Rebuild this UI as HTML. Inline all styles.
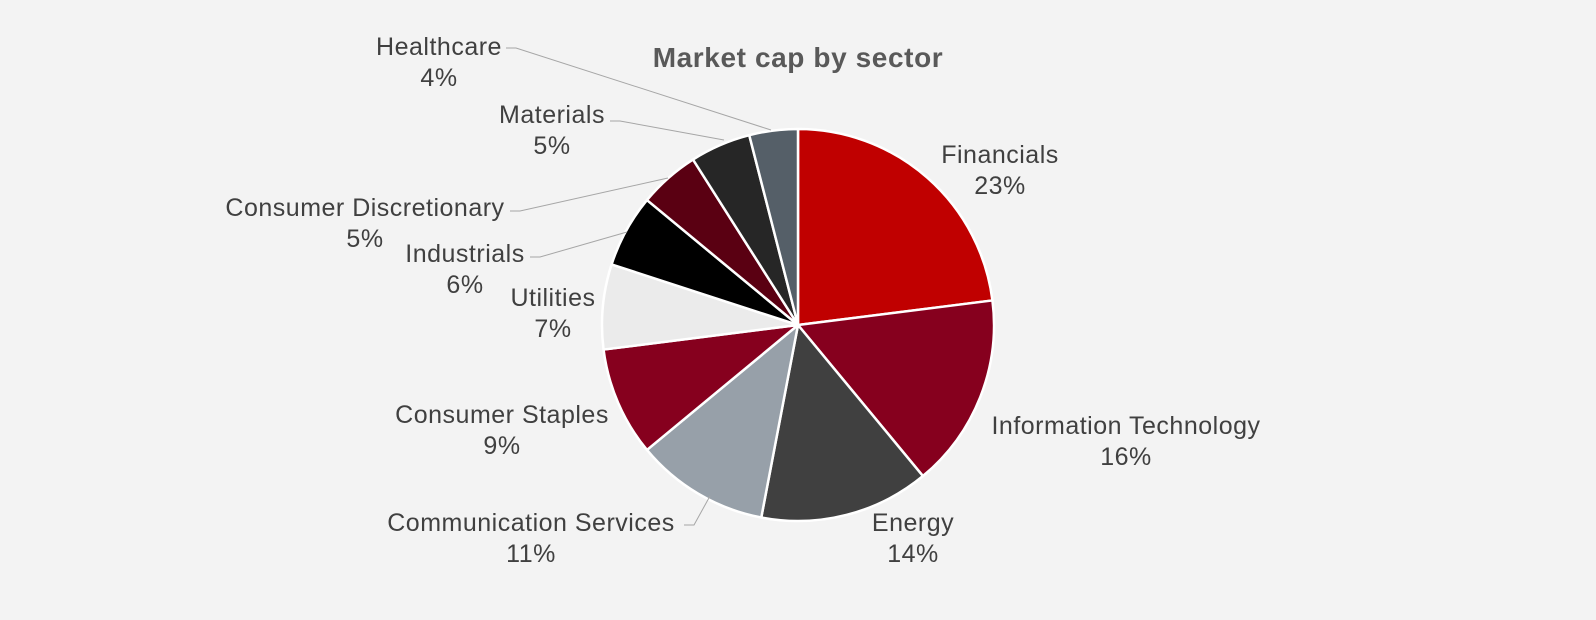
<!DOCTYPE html>
<html><head><meta charset="utf-8"><style>
html,body{margin:0;padding:0;background:#f3f3f3;}
svg{display:block;font-family:"Liberation Sans",Arial,sans-serif;}
text{fill:#404040;font-size:25px;letter-spacing:0.5px;}
</style></head><body>
<svg id="s" width="1596" height="620" viewBox="0 0 1596 620">
<rect width="1596" height="620" fill="#f3f3f3"/>
<text x="798" y="67" text-anchor="middle" style="font-weight:bold;font-size:28px;fill:#595959;letter-spacing:0.6px">Market cap by sector</text>
<g id="pie"></g>
<g stroke="#a6a6a6" stroke-width="1" fill="none">
<polyline points="506,48 516,48 771,130"/>
<polyline points="610,121 620,121 724,140"/>
<polyline points="510,211 520,211 668,178"/>
<polyline points="530,257 540,257 627,232"/>
<polyline points="684,525 694,525 710,496"/>
</g>
<g text-anchor="middle">
<text x="1000" y="163">Financials</text><text x="1000" y="194">23%</text>
<text x="1126" y="434">Information Technology</text><text x="1126" y="465">16%</text>
<text x="913" y="531">Energy</text><text x="913" y="562">14%</text>
<text x="531" y="531">Communication Services</text><text x="531" y="562">11%</text>
<text x="502" y="423">Consumer Staples</text><text x="502" y="454">9%</text>
<text x="553" y="306">Utilities</text><text x="553" y="337">7%</text>
<text x="465" y="262">Industrials</text><text x="465" y="293">6%</text>
<text x="365" y="216">Consumer Discretionary</text><text x="365" y="247">5%</text>
<text x="552" y="123">Materials</text><text x="552" y="154">5%</text>
<text x="439" y="55">Healthcare</text><text x="439" y="86">4%</text>
</g>
</svg>
<script>
var d=[[23,"#c00000"],[16,"#86001e"],[14,"#404040"],[11,"#97a0a9"],[9,"#86001e"],[7,"#ebebeb"],[6,"#000000"],[5,"#5a0012"],[5,"#262626"],[4,"#555f68"]];
var cx=798,cy=325,r=196,a=0,g=document.getElementById("pie"),h="";
function p(t){var q=t/100*2*Math.PI;return (cx+r*Math.sin(q)).toFixed(2)+","+(cy-r*Math.cos(q)).toFixed(2);}
d.forEach(function(e){var b=a+e[0];h+='<path d="M'+cx+','+cy+' L'+p(a)+' A'+r+','+r+' 0 '+(e[0]>50?1:0)+' 1 '+p(b)+' Z" fill="'+e[1]+'" stroke="#fff" stroke-width="2.5" stroke-linejoin="round"/>';a=b;});
g.innerHTML=h;
</script>
</body></html>
